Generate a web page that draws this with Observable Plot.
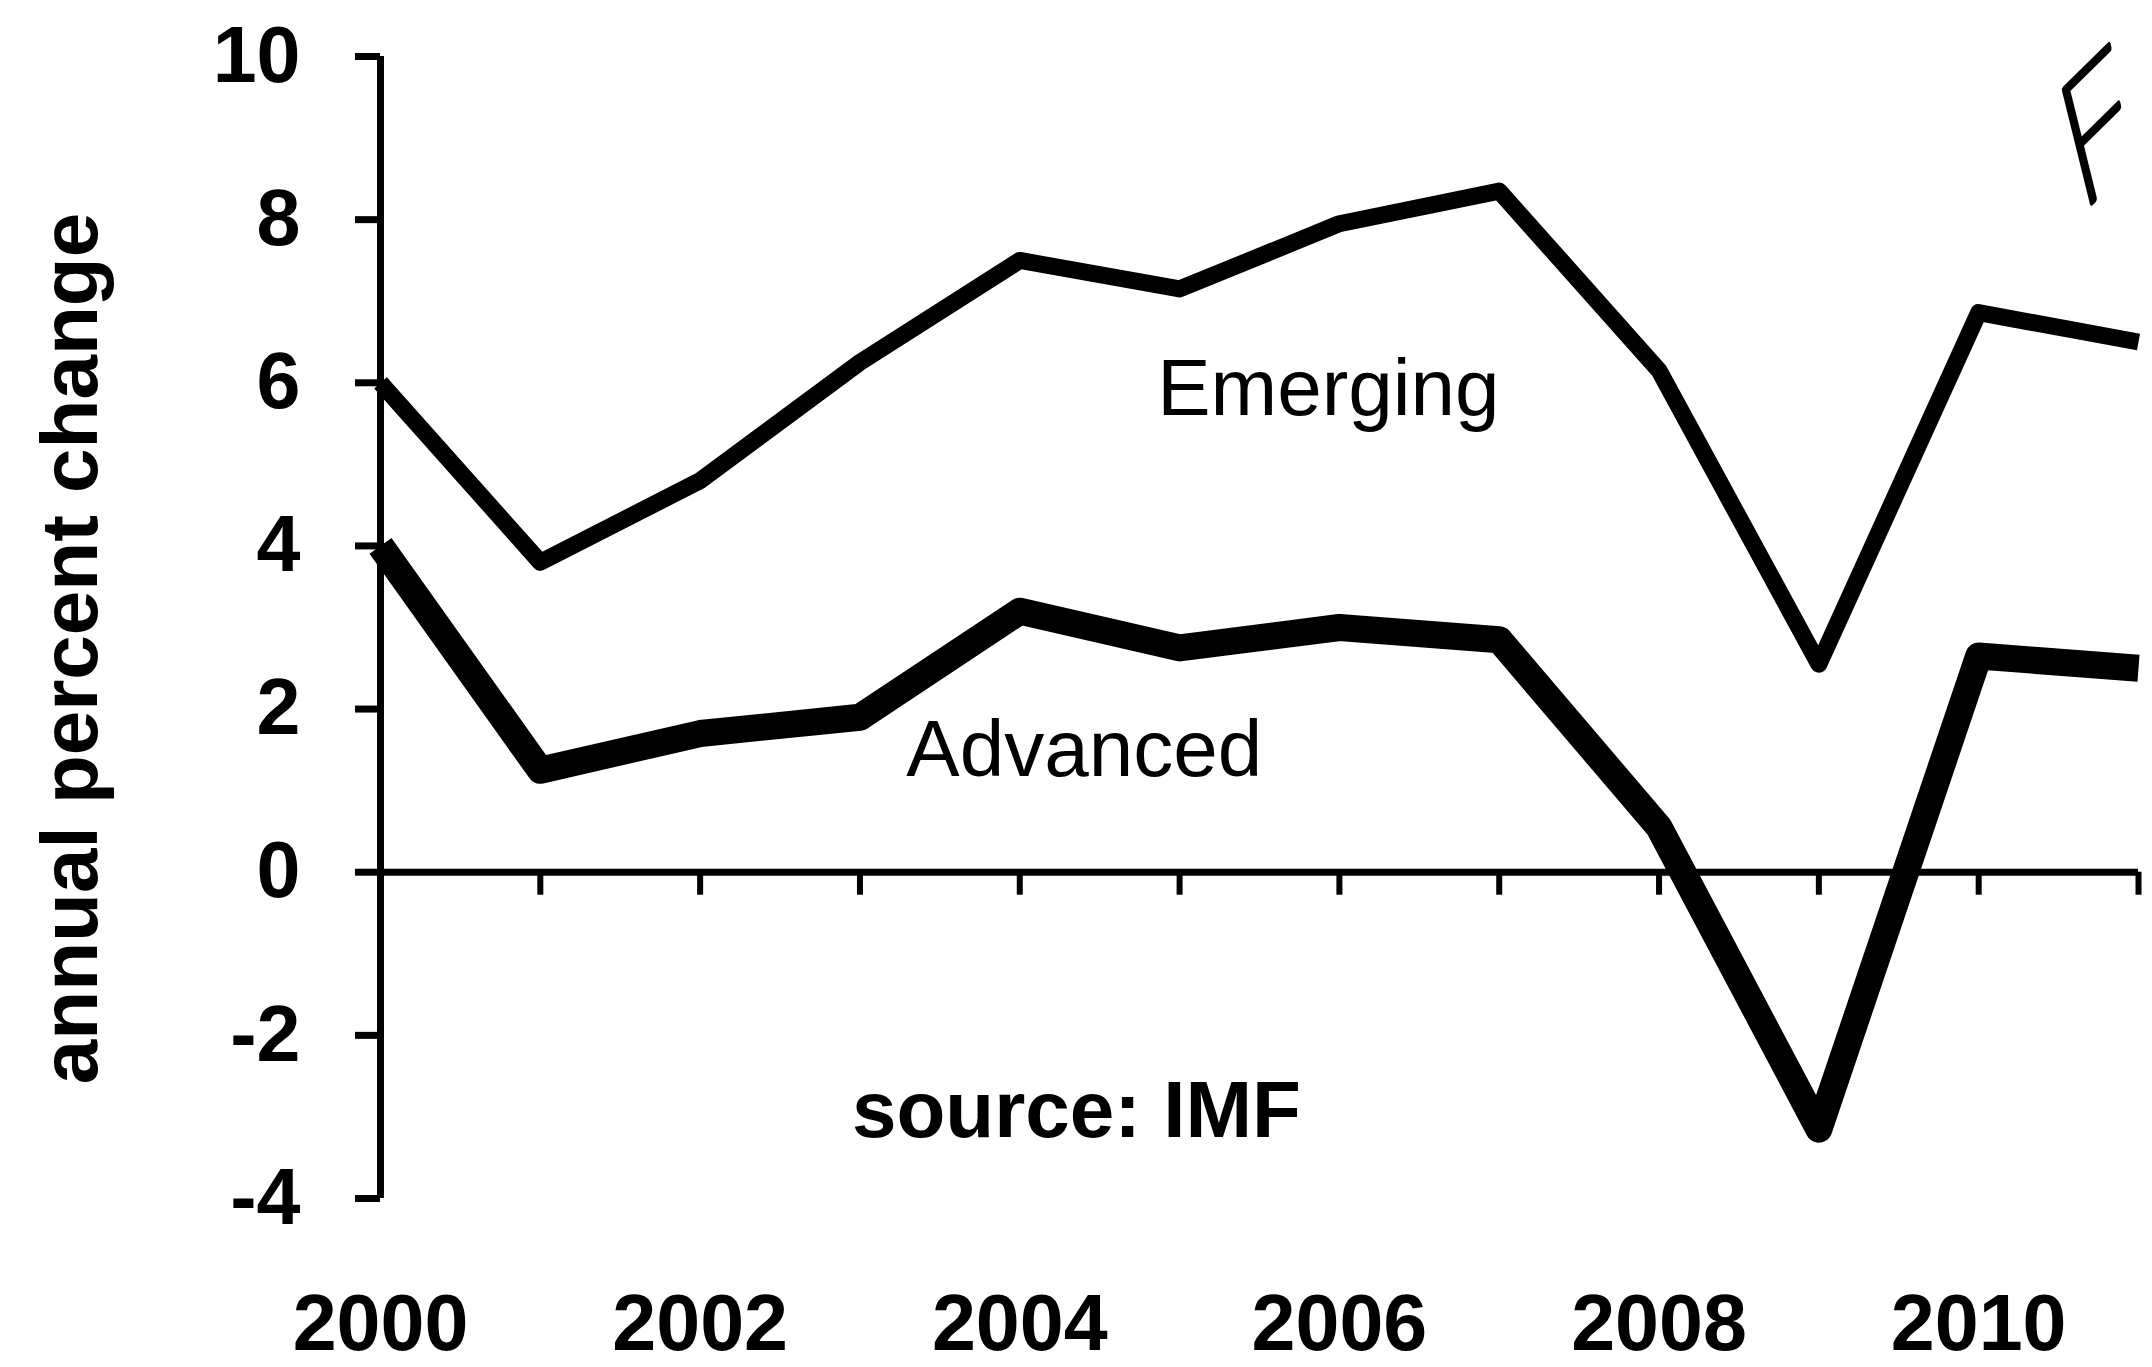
<!DOCTYPE html>
<html>
<head>
<meta charset="utf-8">
<script src="https://cdn.jsdelivr.net/npm/d3@7"></script>
<script src="https://cdn.jsdelivr.net/npm/@observablehq/plot@0.6"></script>
<style>
  html, body { margin: 0; padding: 0; background: #fff; }
  #chart svg { display: block; }
</style>
</head>
<body>
<div id="chart"></div>
<script>
// ---- data ----
const years = [2000, 2001, 2002, 2003, 2004, 2005, 2006, 2007, 2008, 2009, 2010, 2011];
const emerging = [6.0, 3.8, 4.8, 6.25, 7.5, 7.15, 7.95, 8.35, 6.15, 2.55, 6.86, 6.5];
const advanced = [4.0, 1.25, 1.7, 1.9, 3.2, 2.75, 3.0, 2.85, 0.55, -3.15, 2.65, 2.5];
const yTicks = [-4, -2, 0, 2, 4, 6, 8, 10];
const xTickLabels = [2000, 2002, 2004, 2006, 2008, 2010];
const seriesNames = ["Emerging", "Advanced"];
const yAxisLabel = "annual percent change";
const sourceNote = "source: IMF";
const handNote = "F";

const emergingRows = years.map((year, i) => ({year, value: emerging[i], series: seriesNames[0]}));
const advancedRows = years.map((year, i) => ({year, value: advanced[i], series: seriesNames[1]}));

const font = "'Liberation Sans', Arial, Helvetica, sans-serif";

const chart = Plot.plot({
  width: 2152,
  height: 1367,
  marginLeft: 380,
  marginRight: 14,
  marginTop: 56,
  marginBottom: 169,
  style: {fontFamily: font, background: "#fff", color: "#000", overflow: "visible"},
  x: {domain: [2000, 2011]},
  y: {domain: [-4, 10]},
  marks: [
    Plot.axisY({ticks: yTicks, tickSize: 25, tickPadding: 55, strokeWidth: 7, fontSize: 79, fontWeight: "bold",
                tickFormat: (d) => String(d), label: null}),
    Plot.axisX({ticks: xTickLabels, tickSize: 0, tickPadding: 95, fontSize: 79, fontWeight: "bold",
                tickFormat: (d) => String(d), label: null}),
    // y axis line and zero baseline
    Plot.ruleX([2000], {strokeWidth: 7}),
    Plot.ruleY([0], {strokeWidth: 7}),
    // yearly ticks hanging below the zero line
    Plot.ruleX(years, {x: (d) => d, y1: 0, y2: 0, insetBottom: -23, strokeWidth: 6}),
    // series
    Plot.line(emergingRows, {x: "year", y: "value", stroke: "#000", strokeWidth: 17,
                             strokeLinejoin: "round", strokeLinecap: "butt"}),
    Plot.line(advancedRows, {x: "year", y: "value", stroke: "#000", strokeWidth: 27,
                             strokeLinejoin: "round", strokeLinecap: "butt"}),
    // series labels
    Plot.text([seriesNames[0]], {x: 2004.86, y: 5.6, text: (d) => d, textAnchor: "start", lineAnchor: "bottom",
                                 fontSize: 80, fontWeight: "normal", fill: "#000"}),
    Plot.text([seriesNames[1]], {x: 2003.29, y: 1.18, text: (d) => d, textAnchor: "start", lineAnchor: "bottom",
                                 fontSize: 80, fontWeight: "normal", fill: "#000"}),
    Plot.text([sourceNote], {x: 2002.95, y: -3.24, text: (d) => d, textAnchor: "start", lineAnchor: "bottom",
                             fontSize: 80, fontWeight: "bold", fill: "#000"}),
    // y axis title
    Plot.text([yAxisLabel], {frameAnchor: "left", text: (d) => d, rotate: -90, dx: -284, dy: 21,
                             textAnchor: "middle", lineAnchor: "bottom", fontSize: 80, fontWeight: "bold", fill: "#000"}),
    // handwritten mark in the corner
    Plot.text([handNote], {x: 2010.63, y: 8.06, text: (d) => d, textAnchor: "start", lineAnchor: "bottom",
                           fontSize: 160, fontFamily: "Inter, Lato, 'DejaVu Sans', sans-serif", fontWeight: 100,
                           fill: "#000", stroke: "#000", strokeWidth: 6})
  ]
});

// Skew the handwritten "F" so it leans like the pen stroke
d3.select(chart).selectAll("text").filter(function () { return this.textContent === handNote; })
  .each(function () {
    const t = this.getAttribute("transform") || "";
    if (!t.includes("matrix")) this.setAttribute("transform", t + " matrix(0.71,-0.70,0.24,0.97,0,0)");
  });

document.getElementById("chart").append(chart);
</script>
</body>
</html>
